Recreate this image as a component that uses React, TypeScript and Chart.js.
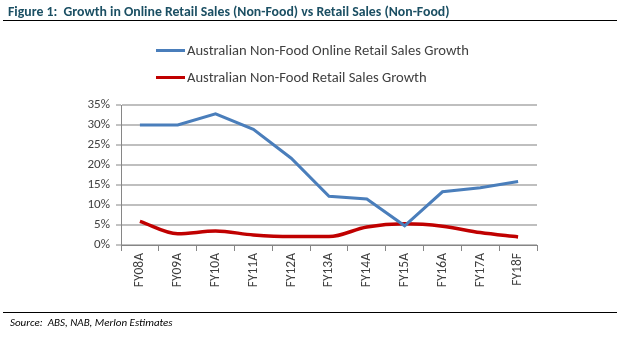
import React, { useEffect, useRef } from "react";
import { Chart, registerables } from "chart.js";

Chart.register(...registerables);

const categories = ["FY08A", "FY09A", "FY10A", "FY11A", "FY12A", "FY13A", "FY14A", "FY15A", "FY16A", "FY17A", "FY18F"];
const onlineGrowth = [30, 30, 32.8, 28.9, 21.7, 12.2, 11.5, 4.8, 13.3, 14.3, 15.9];
const retailGrowth = [5.9, 2.8, 3.5, 2.5, 2.1, 2.1, 4.5, 5.3, 4.7, 3.1, 2.0];
const yTicks = [0, 5, 10, 15, 20, 25, 30, 35];
const seriesNames = ["Australian Non-Food Online Retail Sales Growth", "Australian Non-Food Retail Sales Growth"];
const seriesColors = ["#4A7EBB", "#C00000"];
const titleText = "Figure 1:  Growth in Online Retail Sales (Non-Food) vs Retail Sales (Non-Food)";
const sourceText = "Source:  ABS, NAB, Merlon Estimates";

const FONT = "Carlito, 'Liberation Sans Narrow', Lato, 'Open Sans', sans-serif";

export default function App() {
  const ref = useRef<HTMLCanvasElement | null>(null);

  useEffect(() => {
    document.body.style.margin = "0";
    const ctx = ref.current!;
    const chart = new Chart(ctx, {
      type: "line",
      data: {
        labels: categories,
        datasets: [
          {
            label: seriesNames[0],
            data: onlineGrowth,
            borderColor: seriesColors[0],
            backgroundColor: seriesColors[0],
            borderWidth: 3,
            pointRadius: 0,
            tension: 0,
          },
          {
            label: seriesNames[1],
            data: retailGrowth,
            borderColor: seriesColors[1],
            backgroundColor: seriesColors[1],
            borderWidth: 3.5,
            pointRadius: 0,
            cubicInterpolationMode: "monotone",
          },
        ],
      },
      options: {
        animation: false,
        responsive: false,
        maintainAspectRatio: false,
        devicePixelRatio: 1,
        layout: { padding: { left: 61, right: 87, top: 105, bottom: 46 } },
        plugins: { legend: { display: false }, tooltip: { enabled: false } },
        scales: {
          x: {
            offset: true,
            grid: {
              offset: true,
              drawOnChartArea: false,
              drawTicks: true,
              tickLength: 6,
              color: "#868686",
            },
            border: { display: true, color: "#868686", width: 1 },
            ticks: {
              maxRotation: 90,
              minRotation: 90,
              color: "#404040",
              padding: 2,
              font: { family: FONT, size: 13.5 },
            },
            afterFit: (s: any) => {
              s.height = 50;
            },
          },
          y: {
            min: 0,
            max: 35,
            afterBuildTicks: (s: any) => {
              s.ticks = yTicks.map((v) => ({ value: v }));
            },
            grid: {
              color: "#BFBFBF",
              lineWidth: 2,
              drawTicks: true,
              tickLength: 5,
              tickColor: "#868686",
              tickWidth: 1,
            },
            border: { display: true, color: "#868686", width: 1 },
            ticks: {
              color: "#404040",
              padding: 6,
              font: { family: FONT, size: 13 },
              callback: (v: any) => v + "%",
            },
            afterFit: (s: any) => {
              s.width = 60;
            },
          },
        },
      },
    });
    return () => chart.destroy();
  }, []);

  return (
    <div style={{ position: "fixed", left: 0, top: 0, width: 624, height: 341, background: "#fff", overflow: "hidden", fontFamily: FONT }}>
      <canvas ref={ref} width={624} height={341} style={{ position: "absolute", left: 0, top: 0, width: 624, height: 341 }} />
      <div style={{ position: "absolute", left: 8, top: 3, fontSize: 13.8, fontWeight: "bold", color: "#1B4F63", whiteSpace: "pre" }}>{titleText}</div>
      <div style={{ position: "absolute", left: 3, top: 20, width: 614, height: 1, background: "#000" }} />
      {seriesNames.map((n, i) => (
        <div key={n} style={{ position: "absolute", left: 156, top: 41 + i * 27, display: "flex", alignItems: "center", color: "#404040", fontSize: 14.6, whiteSpace: "pre" }}>
          <div style={{ width: 29, height: 3, background: seriesColors[i], marginRight: 2 }} />
          <span>{n}</span>
        </div>
      ))}
      <div style={{ position: "absolute", left: 3, top: 312, width: 614, height: 1, background: "#000" }} />
      <div style={{ position: "absolute", left: 10, top: 316, fontSize: 11, fontStyle: "italic", color: "#000", whiteSpace: "pre" }}>{sourceText}</div>
    </div>
  );
}
